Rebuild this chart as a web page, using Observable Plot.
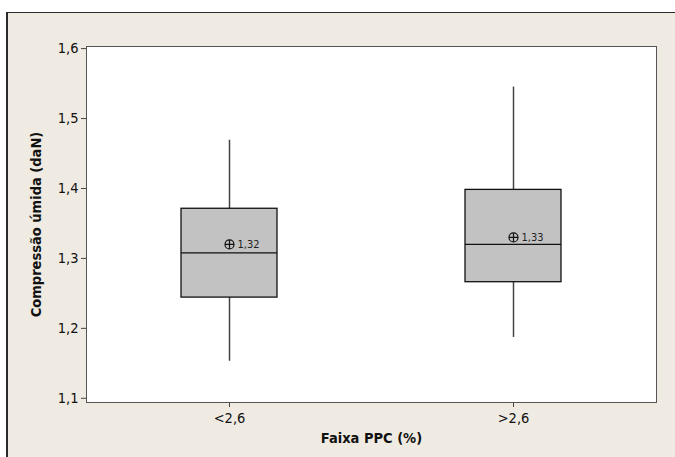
<!DOCTYPE html>
<html>
<head>
<meta charset="utf-8">
<script src="https://cdn.jsdelivr.net/npm/d3@7"></script>
<script src="https://cdn.jsdelivr.net/npm/@observablehq/plot@0.6"></script>
<style>
  html, body { margin: 0; padding: 0; background: #ffffff; }
  #panel {
    position: absolute; left: 6px; top: 12px; width: 669px; height: 445px;
    background: #efebe2; border-left: 2px solid #2a2a2a; border-top: 1px solid #2a2a2a;
    box-sizing: border-box;
  }
  #chart { position: absolute; left: 0; top: 0; }
  #chart g[aria-label="y-axis label"] text,
  #chart g[aria-label="x-axis label"] text { font-weight: bold; }
</style>
</head>
<body>
<div id="panel"></div>
<div id="chart"></div>
<script>
// Compressão úmida por faixa de PPC: quartis, bigodes e média de cada grupo
const groups = ["<2,6", ">2,6"];
const whiskerLow = [1.153, 1.187];
const quartile1 = [1.244, 1.266];
const medians = [1.308, 1.320];
const quartile3 = [1.371, 1.398];
const whiskerHigh = [1.469, 1.545];
const means = [1.32, 1.33];
const yTicks = [1.1, 1.2, 1.3, 1.4, 1.5, 1.6];

const rows = groups.map((g, i) => ({
  group: g,
  lo: whiskerLow[i],
  q1: quartile1[i],
  median: medians[i],
  q3: quartile3[i],
  hi: whiskerHigh[i],
  mean: means[i]
}));

const comma = (v, n) => v.toFixed(n).replace(".", ",");

// crosshair drawn inside the mean circle
const crossSymbol = {
  draw(context, size) {
    const r = Math.sqrt(size / Math.PI);
    context.moveTo(-r, 0); context.lineTo(r, 0);
    context.moveTo(0, -r); context.lineTo(0, r);
  }
};

const font = "'DejaVu Sans Condensed', 'DejaVu Sans', Verdana, sans-serif";

const chart = Plot.plot({
  width: 675,
  height: 457,
  marginLeft: 86,
  marginRight: 19,
  marginTop: 46,
  marginBottom: 55,
  style: { background: "transparent", fontFamily: font, fontSize: "14.5px", color: "#111" },
  x: { type: "band", domain: groups, paddingInner: 0.663, paddingOuter: 0.332 },
  y: { domain: [1.094, 1.603] },
  marks: [
    Plot.frame({ fill: "white" }),
    Plot.axisY({
      ticks: yTicks, tickFormat: d => comma(d, 1), tickSize: 5, tickPadding: 3,
      stroke: "#444",
      label: "Compressão úmida (daN)", labelAnchor: "center", labelOffset: 56, labelArrow: "none"
    }),
    Plot.axisX({
      tickSize: 5, tickPadding: 5, stroke: "#444",
      label: "Faixa PPC (%)", labelAnchor: "center", labelOffset: 40, labelArrow: "none"
    }),
    Plot.ruleX(rows, { x: "group", y1: "lo", y2: "q1", stroke: "#444", strokeWidth: 1.5 }),
    Plot.ruleX(rows, { x: "group", y1: "q3", y2: "hi", stroke: "#444", strokeWidth: 1.5 }),
    Plot.barY(rows, { x: "group", y1: "q1", y2: "q3", fill: "#c2c2c2", stroke: "#111", strokeWidth: 1.3 }),
    Plot.tickY(rows, { x: "group", y: "median", stroke: "#111", strokeWidth: 1.2 }),
    Plot.dot(rows, { x: "group", y: "mean", r: 4.5, fill: "none", stroke: "#111", strokeWidth: 1.2 }),
    Plot.dot(rows, { x: "group", y: "mean", r: 4.5, symbol: crossSymbol, fill: "none", stroke: "#111", strokeWidth: 1.2 }),
    Plot.text(rows, {
      x: "group", y: "mean", text: d => comma(d.mean, 2),
      dx: 8, textAnchor: "start", fontSize: 11, fill: "#222"
    }),
    Plot.frame({ stroke: "#555" })
  ]
});

document.getElementById("chart").appendChild(chart);
</script>
</body>
</html>
